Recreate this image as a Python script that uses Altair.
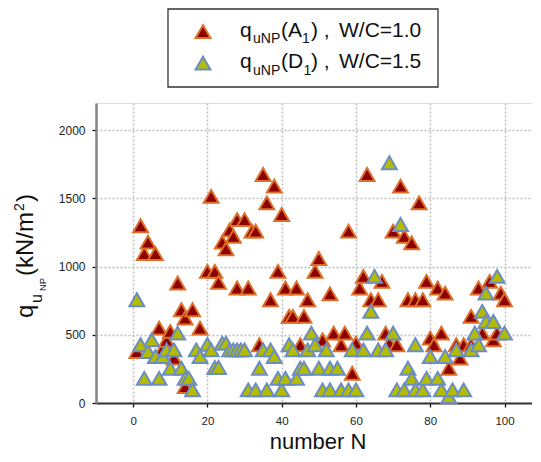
import altair as alt
import pandas as pd

# ---- data (N, q_uNP in kN/m^2) ----
red_n = [1, 2, 3, 4, 6, 7, 8, 9, 10, 11, 12, 13, 14, 14, 16, 18, 20, 21, 22, 23,
         24, 25, 26, 27, 28, 28, 30, 31, 32, 33, 34, 35, 36, 37, 38, 39, 40, 41, 42, 43,
         44, 45, 46, 47, 49, 50, 51, 53, 54, 56, 57, 58, 59, 60, 61, 62, 63, 64, 66, 67,
         68, 69, 70, 71, 72, 73, 74, 75, 76, 77, 78, 79, 80, 81, 82, 83, 84, 85, 87, 88,
         89, 91, 91, 93, 94, 96, 97, 98, 99, 100]
red_q = [378, 1300, 1095, 1180, 1095, 549, 400, 460, 525, 330, 880, 684, 623, 120, 684, 549, 965, 1515, 965, 885,
         1180, 1130, 1270, 1222, 1345, 843, 1345, 843, 1260, 1260, 427, 1676, 1468, 757, 1590, 965, 1382, 843, 635, 635,
         843, 427, 635, 757, 965, 1060, 463, 800, 512, 427, 512, 1260, 218, 439, 843, 929, 1676, 757, 757, 892,
         512, 439, 1260, 427, 1590, 1222, 757, 1174, 757, 1468, 757, 892, 476, 427, 843, 512, 806, 255, 427, 329,
         427, 427, 635, 843, 512, 892, 463, 512, 806, 757]

blue_n = [1, 2, 3, 4, 5, 6, 7, 8, 9, 10, 11, 12, 13, 14, 15, 16, 17, 18, 20, 21,
          22, 23, 24, 25, 26, 27, 28, 29, 30, 31, 33, 34, 35, 36, 37, 38, 39, 40, 41, 42,
          43, 44, 45, 46, 47, 48, 49, 50, 51, 52, 53, 53, 55, 56, 58, 59, 60, 62, 63, 64,
          65, 66, 68, 69, 70, 71, 72, 73, 74, 75, 76, 76, 78, 79, 80, 82, 83, 84, 85, 86,
          87, 89, 91, 92, 93, 94, 95, 95, 97, 98, 100]
blue_q = [757, 427, 181, 378, 463, 341, 181, 341, 390, 255, 390, 512, 255, 181, 181, 96, 390, 341, 430, 390,
          260, 260, 439, 439, 390, 390, 390, 390, 390, 96, 96, 255, 390, 96, 390, 341, 181, 96, 181, 427,
          390, 181, 255, 255, 390, 512, 427, 255, 96, 390, 96, 255, 255, 96, 96, 390, 96, 390, 512, 672,
          929, 390, 390, 1762, 512, 96, 1309, 96, 255, 181, 427, 96, 96, 181, 341, 181, 96, 341, 47, 96,
          390, 96, 390, 512, 427, 672, 598, 806, 598, 929, 512]

x_ticks = [0, 20, 40, 60, 80, 100]
y_ticks = [0, 500, 1000, 1500, 2000]

FONT = "Liberation Sans"
RED_FILL, RED_STROKE = "#8c0000", "#dc6e28"
BLUE_FILL, BLUE_STROKE = "#b4bc00", "#6a8dc4"
TRI = 220

red_df = pd.DataFrame({"N": red_n, "q": red_q})
blue_df = pd.DataFrame({"N": blue_n, "q": blue_q})

x_enc = alt.X("N:Q", scale=alt.Scale(domain=[-10, 107.4], nice=False, zero=False),
              axis=alt.Axis(values=x_ticks, title=None, grid=True, gridColor="#bdbdbd",
                            gridDash=[2, 2], gridWidth=1.5, domainColor="#333333",
                            domainWidth=1.8, tickColor="#111111", tickSize=4, tickWidth=1.3,
                            labelFont=FONT, labelFontSize=11.5, labelColor="#222222",
                            labelPadding=8, format="d"))
y_enc = alt.Y("q:Q", scale=alt.Scale(domain=[0, 2200], nice=False),
              axis=alt.Axis(values=y_ticks, title=None, grid=True, gridColor="#bdbdbd",
                            gridDash=[2, 2], gridWidth=1.5, domainColor="#858585",
                            domainWidth=2.5, tickColor="#111111", tickSize=4, tickWidth=1.3,
                            labelFont=FONT, labelFontSize=12, labelColor="#222222",
                            labelPadding=7, format="d"))

red = alt.Chart(red_df).mark_point(shape="triangle-up", filled=True, fill=RED_FILL,
                                   stroke=RED_STROKE, strokeWidth=2, size=TRI,
                                   opacity=1, fillOpacity=1, strokeOpacity=1).encode(x=x_enc, y=y_enc)
blue = alt.Chart(blue_df).mark_point(shape="triangle-up", filled=True, fill=BLUE_FILL,
                                     stroke=BLUE_STROKE, strokeWidth=2, size=TRI,
                                     opacity=1, fillOpacity=1, strokeOpacity=1).encode(x=x_enc, y=y_enc)

one = pd.DataFrame({"k": [0]})


def txt(s, x, y, size, angle=0, align="left"):
    kw = dict(text=s, font=FONT, fontSize=size, align=align, baseline="alphabetic", color="#111111")
    if angle:
        kw["angle"] = angle
    return alt.Chart(one).mark_text(**kw).encode(x=alt.value(x), y=alt.value(y))


# plot origin is at page (96, 103)
layers = [red, blue]

# y title: q_{u_NP}(kN/m^2), rotated
layers += [
    txt("q", -63, 215, 24, 270),
    txt("u", -54, 200, 16, 270),
    txt("NP", -50, 188, 9.5, 270),
    txt("(kN/m", -63, 173, 24, 270),
    txt("2", -72, 108, 14, 270),
    txt(")", -63, 99, 24, 270),
]

# x title
layers.append(txt("number N", 222, 346, 22, 0, "center"))

# legend
box = alt.Chart(one).mark_rect(fill="white", stroke="#333333", strokeWidth=1.3).encode(
    x=alt.value(72), x2=alt.value(342), y=alt.value(-94), y2=alt.value(-16))
layers.append(box)
leg_red = alt.Chart(one).mark_point(shape="triangle-up", filled=True, fill=RED_FILL, stroke=RED_STROKE,
                                    strokeWidth=2, size=TRI, opacity=1).encode(
    x=alt.value(107), y=alt.value(-71.4))
leg_blue = alt.Chart(one).mark_point(shape="triangle-up", filled=True, fill=BLUE_FILL, stroke=BLUE_STROKE,
                                     strokeWidth=2, size=TRI, opacity=1).encode(
    x=alt.value(107), y=alt.value(-39.8))
layers += [leg_red, leg_blue]

for base_y, letter in [(-66.3, "(A"), (-34.7, "(D")]:
    layers += [
        txt("q", 144, base_y, 21),
        txt("uNP", 157, base_y + 6.6, 14),
        txt(letter, 185, base_y, 21),
        txt("1", 206 if letter == "(A" else 207.5, base_y + 6.3, 14),
        txt(") ,", 215, base_y, 21),
        txt("W/C=1.0" if letter == "(A" else "W/C=1.5", 243, base_y, 21),
    ]

chart = alt.layer(*layers).properties(
    width=436, height=300,
    autosize=alt.AutoSizeParams(type="none"),
    padding={"left": 88, "top": 95, "right": 0, "bottom": 51},
).configure_view(stroke=None).configure(background="white")

chart.save("out.html", embed_options={"renderer": "svg", "actions": False})
